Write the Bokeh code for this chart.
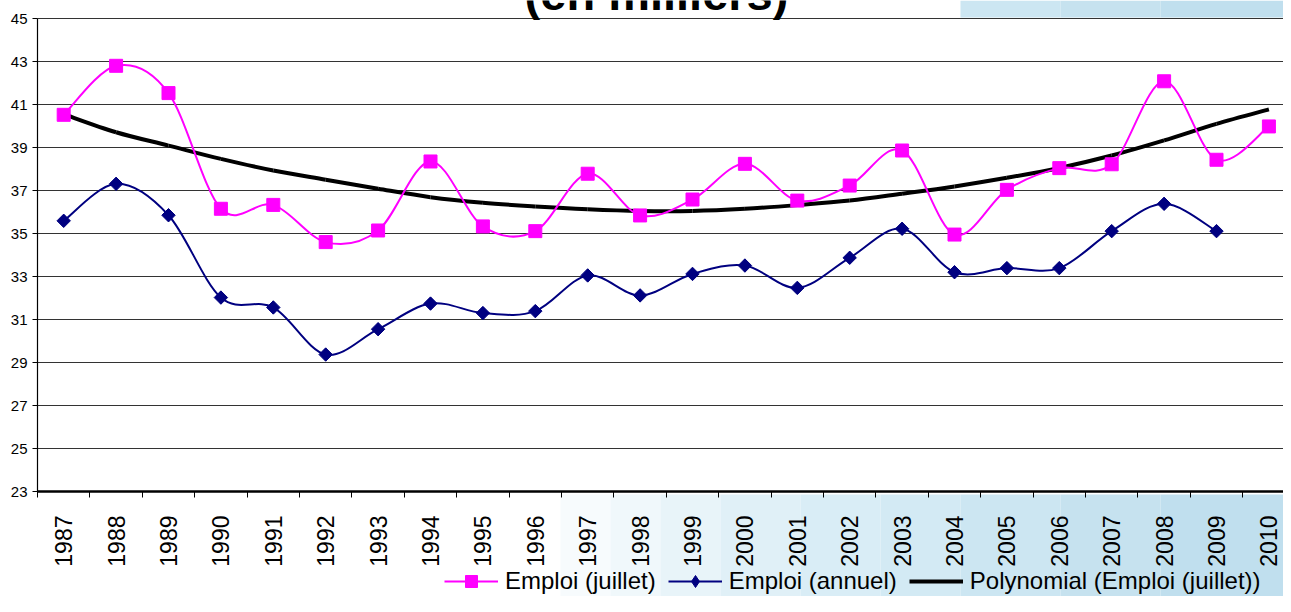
import math
from bokeh.plotting import figure
from bokeh.models import Range1d, FixedTicker, Legend, LegendItem, Label, LinearAxis
from bokeh.embed import file_html
from bokeh.resources import INLINE

# ---------------- data ----------------
years = list(range(1987, 2011))
emploi_juillet = [40.52, 42.80, 41.53, 36.15, 36.33, 34.60, 35.14, 38.35, 35.33, 35.11,
                  37.78, 35.84, 36.58, 38.24, 36.53, 37.23, 38.86, 34.95, 37.03, 38.04,
                  38.22, 42.08, 38.43, 39.98]
years_annuel = list(range(1987, 2010))
emploi_annuel = [35.59, 37.31, 35.85, 32.02, 31.56, 29.37, 30.55, 31.74, 31.30, 31.39,
                 33.05, 32.12, 33.12, 33.51, 32.47, 33.87, 35.22, 33.20, 33.39, 33.39,
                 35.11, 36.38, 35.11]
tendance_poly = [40.55, 39.71, 39.09, 38.47, 37.93, 37.50, 37.08, 36.69, 36.43, 36.26,
                 36.13, 36.05, 36.05, 36.15, 36.32, 36.53, 36.85, 37.19, 37.59, 38.05,
                 38.63, 39.33, 40.10, 40.77]
y_ticks = list(range(23, 46, 2))
labels = ["Emploi (juillet)", "Emploi (annuel)", "Polynomial (Emploi (juillet))"]
title_text = "(en milliers)"

FONT = "Liberation Sans"
PINK = "#FF00FF"
NAVY = "#000080"


def smooth(xs, ys):
    """Excel-like smoothed line: cubic Bezier segments through the data points."""
    n = len(xs)
    d = dict(x0=[], y0=[], x1=[], y1=[], cx0=[], cy0=[], cx1=[], cy1=[])
    for i in range(n - 1):
        a = max(i - 1, 0)
        b = min(i + 2, n - 1)
        d["x0"].append(xs[i]); d["y0"].append(ys[i])
        d["x1"].append(xs[i + 1]); d["y1"].append(ys[i + 1])
        d["cx0"].append(xs[i] + (xs[i + 1] - xs[a]) / 6.0)
        d["cy0"].append(ys[i] + (ys[i + 1] - ys[a]) / 6.0)
        d["cx1"].append(xs[i + 1] - (xs[b] - xs[i]) / 6.0)
        d["cy1"].append(ys[i + 1] - (ys[b] - ys[i]) / 6.0)
    return d


# ---------------- layout ----------------
W, H = 1283, 596
LEFT, TOP, BOTTOM = 37, 18, 491          # plot area edges in canvas pixels
PX_X = 52.4                              # pixels per year
PX_Y = (BOTTOM - TOP) / 22.0             # pixels per unit
X0 = years[0] - 0.5
X_END = X0 + (W - LEFT) / PX_X


def to_data(cx, cy):
    return X0 + (cx - LEFT) / PX_X, 23 - (cy - BOTTOM) / PX_Y


xs_start, ys_top = to_data(0, 0)
xs_end, ys_bot = to_data(W, H)

p = figure(width=W, height=H, output_backend="svg", toolbar_location=None,
           x_range=Range1d(xs_start, xs_end), y_range=Range1d(ys_bot, ys_top),
           x_axis_location=None, y_axis_location=None,
           min_border=0, min_border_left=0, min_border_right=0,
           min_border_top=0, min_border_bottom=0)
p.outline_line_color = None
p.background_fill_color = "white"
p.border_fill_color = "white"
p.grid.visible = False

# faded light-blue photo behind the chart (outside the plot area)
stops = [(560, "#F7FBFD"), (610, "#F0F8FB"), (660, "#E8F4F9"), (720, "#E0F0F7"),
         (800, "#D9EDF6"), (880, "#D3EAF4"), (960, "#CCE6F2"), (1060, "#C6E2EF"),
         (1160, "#C0DFEE")]
bg = dict(left=[], right=[], top=[], bottom=[], color=[])
for k, (xl, col) in enumerate(stops):
    xr = stops[k + 1][0] if k + 1 < len(stops) else W
    for (yt, yb) in [(494, H)] + ([(0, TOP - 1)] if xl >= 950 else []):
        l, t = to_data(xl, yt)
        r, b = to_data(xr, yb)
        bg["left"].append(l); bg["right"].append(r)
        bg["top"].append(t); bg["bottom"].append(b); bg["color"].append(col)
p.quad(left="left", right="right", top="top", bottom="bottom", color="color",
       source=bg, line_alpha=0, level="underlay")

# horizontal gridlines
p.segment(x0=[X0] * len(y_ticks), x1=[X_END] * len(y_ticks), y0=y_ticks, y1=y_ticks,
          line_color="#333333", line_width=1)

# axes placed at the plot-area edges
boundaries = [y - 0.5 for y in years] + [years[-1] + 0.5]
xa = LinearAxis(fixed_location=23, bounds=(X0, X_END),
                ticker=FixedTicker(ticks=years, minor_ticks=boundaries))
xa.major_label_overrides = {y: str(y) for y in years}
xa.major_label_orientation = math.pi / 2
xa.major_label_text_font = FONT
xa.major_label_text_font_size = "23px"
xa.major_label_text_color = "black"
xa.major_label_standoff = 18
xa.major_tick_in = 0
xa.major_tick_out = 0
xa.minor_tick_in = 0
xa.minor_tick_out = 6
xa.minor_tick_line_color = "black"
xa.axis_line_color = "black"
xa.axis_line_width = 2.5
p.add_layout(xa, "below")

ya = LinearAxis(fixed_location=X0, bounds=(23, 45),
                ticker=FixedTicker(ticks=y_ticks, minor_ticks=[]))
ya.major_label_text_font = FONT
ya.major_label_text_font_size = "15px"
ya.major_label_text_color = "black"
ya.major_label_standoff = 5
ya.major_tick_in = 0
ya.major_tick_out = 5
ya.major_tick_line_color = "black"
ya.axis_line_color = "black"
ya.axis_line_width = 1.2
p.add_layout(ya, "left")

# series
r_trend = p.bezier(line_color="black", line_width=4, **smooth(years, tendance_poly))
r_pink_l = p.bezier(line_color=PINK, line_width=2, **smooth(years, emploi_juillet))
r_pink_m = p.scatter(years, emploi_juillet, marker="square", size=13,
                     fill_color=PINK, line_color=PINK)
r_blue_l = p.bezier(line_color=NAVY, line_width=2, **smooth(years_annuel, emploi_annuel))
# diamond marker (used by the legend swatch), fully covered by the rotated square on top
r_blue_key = p.scatter(years_annuel, emploi_annuel, marker="diamond", size=12,
                       fill_color=NAVY, line_color=NAVY)
r_blue_m = p.scatter(years_annuel, emploi_annuel, marker="square", angle=math.pi / 4,
                     size=9.5, fill_color=NAVY, line_color=NAVY)

legend = Legend(items=[LegendItem(label=labels[0], renderers=[r_pink_l, r_pink_m]),
                       LegendItem(label=labels[1], renderers=[r_blue_l, r_blue_key]),
                       LegendItem(label=labels[2], renderers=[r_trend])],
                orientation="horizontal", location=(444, 0),
                glyph_width=54, glyph_height=30, label_standoff=7, spacing=12,
                padding=0, margin=0, label_text_font=FONT, label_text_font_size="24px",
                label_text_color="black",
                border_line_alpha=0, background_fill_alpha=0)
p.add_layout(legend)

tx, ty = to_data(656, -7)
p.add_layout(Label(x=tx, y=ty, text=title_text, text_font=FONT, text_color="black",
                   text_font_style="bold", text_font_size="47px",
                   text_align="center", text_baseline="alphabetic"))

open("out.html", "w").write(file_html(p, INLINE))
